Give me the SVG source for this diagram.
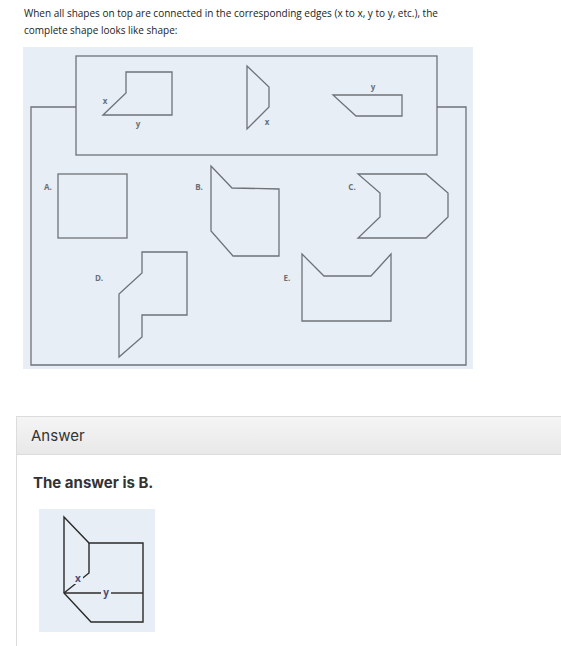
<svg xmlns="http://www.w3.org/2000/svg" width="561" height="646" viewBox="0 0 561 646">
<style>
.q{font-family:"Open Sans","Noto Sans",sans-serif;font-size:10px;fill:#222}
.sh{fill:none;stroke:#6e7378;stroke-width:1.3;stroke-linejoin:miter}
.lb{font-family:"Open Sans","Noto Sans",sans-serif;font-size:8px;font-weight:bold;fill:#6a6f75}
.ans{fill:none;stroke:#2a2a2a;stroke-width:1.4}
.al{font-family:"Open Sans","Noto Sans",sans-serif;font-size:10px;font-weight:bold;fill:#4a4f7a}
</style>
<defs>
<linearGradient id="hg" x1="0" y1="0" x2="0" y2="1">
<stop offset="0" stop-color="#f5f5f5"/>
<stop offset="1" stop-color="#e8e8e8"/>
</linearGradient>
</defs>
<rect width="561" height="646" fill="#fff"/>
<text class="q" x="24" y="17">When all shapes on top are connected in the corresponding edges (x to x, y to y, etc.), the</text>
<text class="q" x="24" y="34">complete shape looks like shape:</text>

<g id="figure">
<rect x="23" y="47" width="450" height="322" fill="#e8eef5"/>
<g id="frame" class="sh">
<rect x="76" y="56" width="361" height="99"/>
<polyline points="76,107 31,107 31,365 466,365 466,107 437,107"/>
</g>
<g id="piece1">
<polygon class="sh" points="103,115 126,93 126,72 172,72 172,115"/>
<text class="lb" x="105" y="104" text-anchor="middle">x</text>
<text class="lb" x="138" y="127" text-anchor="middle">y</text>
</g>
<g id="piece2">
<polygon class="sh" points="247,66 269,87 269,107 247,129"/>
<text class="lb" x="267" y="125" text-anchor="middle">x</text>
</g>
<g id="piece3">
<polygon class="sh" points="333,95 402,95 402,116 356,116"/>
<text class="lb" x="373" y="90" text-anchor="middle">y</text>
</g>
<g id="optA">
<rect class="sh" x="58" y="174" width="69" height="64"/>
<text class="lb" x="48" y="190" text-anchor="middle">A.</text>
</g>
<g id="optB">
<polygon class="sh" points="211,166 232,188 279,189 279,256 233,256 211,231"/>
<text class="lb" x="199" y="190" text-anchor="middle">B.</text>
</g>
<g id="optC">
<polygon class="sh" points="358,174 426,174 448,193 448,217 426,238 358,238 380,217 380,193"/>
<text class="lb" x="352" y="190" text-anchor="middle">C.</text>
</g>
<g id="optD">
<polygon class="sh" points="142,252 187,252 187,315 142,315 142,337 119,357 119,294 142,273"/>
<text class="lb" x="99" y="281" text-anchor="middle">D.</text>
</g>
<g id="optE">
<polygon class="sh" points="302,254 324,276 371,276 391,254 391,321 302,321"/>
<text class="lb" x="287" y="281" text-anchor="middle">E.</text>
</g>
</g>

<g id="answer">
<rect x="16.5" y="416.5" width="560" height="38" fill="url(#hg)" stroke="#dcdcdc"/>
<line x1="16.5" y1="454" x2="16.5" y2="646" stroke="#dcdcdc"/>
<text x="31" y="441" font-family="Inter,'Liberation Sans',sans-serif" font-size="15" fill="#333">Answer</text>
<text x="33" y="488" font-family="Inter,'Liberation Sans',sans-serif" font-size="15" font-weight="bold" fill="#333">The answer is B.</text>
</g>

<g id="answerFigure">
<rect x="39" y="509" width="116" height="123" fill="#e8eef5"/>
<polygon class="ans" points="64,517 89,543 143,543 143,622 91,622 64,593"/>
<polyline class="ans" points="89,543 89,573 64,593"/>
<line class="ans" x1="64" y1="593" x2="101" y2="593"/>
<line class="ans" x1="111" y1="593" x2="143" y2="593"/>
<rect x="73" y="574" width="10" height="10" fill="#e8eef5"/>
<text class="al" x="78" y="582" text-anchor="middle">x</text>
<text class="al" x="106" y="596" text-anchor="middle">y</text>
</g>
</svg>
